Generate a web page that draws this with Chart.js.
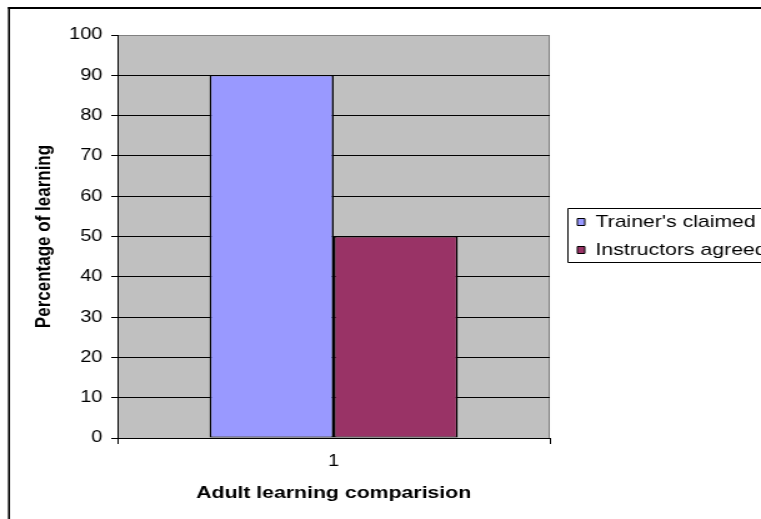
<!DOCTYPE html>
<html>
<head>
<meta charset="utf-8">
<title>Adult learning comparision</title>
<script src="https://cdn.jsdelivr.net/npm/chart.js@4.4.1/dist/chart.umd.min.js"></script>
<style>
  html, body { margin: 0; padding: 0; background: #ffffff; overflow: hidden; }
  #frame { width: 609px; height: 519px; transform-origin: 0 0; }
  canvas { display: block; }
</style>
</head>
<body>
<div id="frame"><canvas id="chart" width="609" height="519"></canvas></div>
<script>
// ---- data ----
const categories = ['1'];
const seriesNames = ["Trainer's claimed", 'Instructors agreed'];
const trainerClaimed = [90];
const instructorsAgreed = [50];
const yTickRange = { min: 0, max: 100, step: 10 };
const xAxisTitle = 'Adult learning comparision';
const yAxisTitle = 'Percentage of learning';

// ---- layout (the drawing is laid out narrow, then widened horizontally) ----
const PAGE_W = 761, PAGE_H = 519;
const WIDEN = 1.25;
const CANVAS_W = Math.round(PAGE_W / WIDEN);
const PLOT = { left: 94, top: 35, right: 440, bottom: 438 };
const LEGEND_AT = { left: 451, top: 202.5 };
const LEGEND_FRAME = { left: 454.5, top: 208.5, bottom: 262.5 };
const FONT = '"Liberation Sans", Arial, Helvetica, sans-serif';
const BAR_EDGE = { left: 1.5, right: 1.5, top: 1, bottom: 1 };

const frame = document.getElementById('frame');
frame.style.transform = 'scaleX(' + (PAGE_W / CANVAS_W) + ')';
const canvas = document.getElementById('chart');
canvas.width = CANVAS_W;
canvas.height = PAGE_H;

Chart.defaults.font.family = FONT;
Chart.defaults.color = '#000000';

// grey plot area with its grey top/right edge, and the outer chart frame
const plotBackdrop = {
  id: 'plotBackdrop',
  beforeDraw(chart) {
    const { ctx, chartArea: a } = chart;
    ctx.save();
    ctx.fillStyle = '#C0C0C0';
    ctx.fillRect(a.left, a.top, a.right - a.left, a.bottom - a.top);
    ctx.strokeStyle = '#808080';
    ctx.lineWidth = 1;
    ctx.beginPath();
    ctx.moveTo(a.left, a.top + 0.5);
    ctx.lineTo(a.right - 0.5, a.top + 0.5);
    ctx.lineTo(a.right - 0.5, a.bottom);
    ctx.stroke();

    ctx.strokeStyle = '#000000';
    ctx.lineWidth = 2;
    ctx.beginPath();
    ctx.moveTo(6.4, 8);
    ctx.lineTo(chart.width, 8);
    ctx.stroke();
    ctx.lineWidth = 1.6;
    ctx.beginPath();
    ctx.moveTo(7.2, 7);
    ctx.lineTo(7.2, chart.height);
    ctx.stroke();
    ctx.restore();
  }
};

// legend sits in its own framed box to the right of the plot
const legendPlacement = {
  id: 'legendPlacement',
  afterLayout(chart) {
    const lg = chart.legend;
    if (!lg) return;
    const h = lg.height;
    lg.left = LEGEND_AT.left;
    lg.top = LEGEND_AT.top;
    lg.right = chart.width + 200;
    lg.bottom = LEGEND_AT.top + h + 20;
  },
  afterDraw(chart) {
    const ctx = chart.ctx;
    ctx.save();
    ctx.strokeStyle = '#000000';
    ctx.lineWidth = 1;
    ctx.beginPath();
    ctx.moveTo(chart.width + 10, LEGEND_FRAME.top);
    ctx.lineTo(LEGEND_FRAME.left, LEGEND_FRAME.top);
    ctx.lineTo(LEGEND_FRAME.left, LEGEND_FRAME.bottom);
    ctx.lineTo(chart.width + 10, LEGEND_FRAME.bottom);
    ctx.stroke();
    ctx.restore();
  }
};

const config = {
  type: 'bar',
  data: {
    labels: categories,
    datasets: [
      {
        label: seriesNames[0],
        data: trainerClaimed,
        backgroundColor: '#9999FF',
        borderColor: '#000000',
        borderWidth: BAR_EDGE,
        borderSkipped: false
      },
      {
        label: seriesNames[1],
        data: instructorsAgreed,
        backgroundColor: '#993366',
        borderColor: '#000000',
        borderWidth: BAR_EDGE,
        borderSkipped: false
      }
    ]
  },
  options: {
    responsive: false,
    animation: false,
    devicePixelRatio: 1,
    events: [],
    categoryPercentage: 0.574,
    barPercentage: 1,
    layout: { padding: { top: PLOT.top, left: 0, bottom: 0, right: 22 } },
    plugins: {
      tooltip: { enabled: false },
      legend: {
        display: true,
        position: 'right',
        align: 'start',
        labels: {
          boxWidth: 6,
          boxHeight: 7,
          padding: 11,
          color: '#000000',
          font: { family: FONT, size: 17 },
          generateLabels(chart) {
            return chart.data.datasets.map((ds, i) => ({
              text: ds.label,
              fillStyle: ds.backgroundColor,
              strokeStyle: '#000000',
              lineWidth: 1,
              hidden: false,
              datasetIndex: i
            }));
          }
        }
      }
    },
    scales: {
      x: {
        type: 'category',
        offset: true,
        grid: {
          display: true,
          drawOnChartArea: false,
          offset: true,
          tickLength: 6,
          color: '#000000',
          tickColor: '#000000',
          lineWidth: 1
        },
        border: { display: true, color: '#000000', width: 1 },
        ticks: { color: '#000000', font: { family: FONT, size: 16 }, padding: 8, maxRotation: 0 },
        title: {
          display: true,
          text: xAxisTitle,
          color: '#000000',
          font: { family: FONT, size: 17, weight: 'bold' },
          padding: { top: 0, bottom: 15 }
        },
        afterFit(scale) { scale.height = PAGE_H - PLOT.bottom; }
      },
      y: {
        min: yTickRange.min,
        max: yTickRange.max,
        ticks: { stepSize: yTickRange.step, color: '#000000', font: { family: FONT, size: 16 }, padding: 7 },
        grid: {
          color: (c) => (c.tick && c.tick.value === yTickRange.max ? '#808080' : '#000000'),
          tickColor: '#000000',
          tickLength: 5,
          lineWidth: 1
        },
        border: { display: true, color: '#000000', width: 1 },
        title: {
          display: true,
          text: yAxisTitle,
          color: '#000000',
          font: { family: FONT, size: 17, weight: 'bold' },
          padding: { top: 25, bottom: 0 }
        },
        afterFit(scale) { scale.width = PLOT.left; }
      }
    }
  },
  plugins: [plotBackdrop, legendPlacement]
};

const chart = new Chart(canvas, config);

// settle the right padding so the plot ends where the legend column begins
for (let i = 0; i < 12; i++) {
  const diff = chart.chartArea.right - PLOT.right;
  if (Math.abs(diff) < 0.05) break;
  chart.config.options.layout.padding.right += diff;
  chart.update();
}
</script>
</body>
</html>
